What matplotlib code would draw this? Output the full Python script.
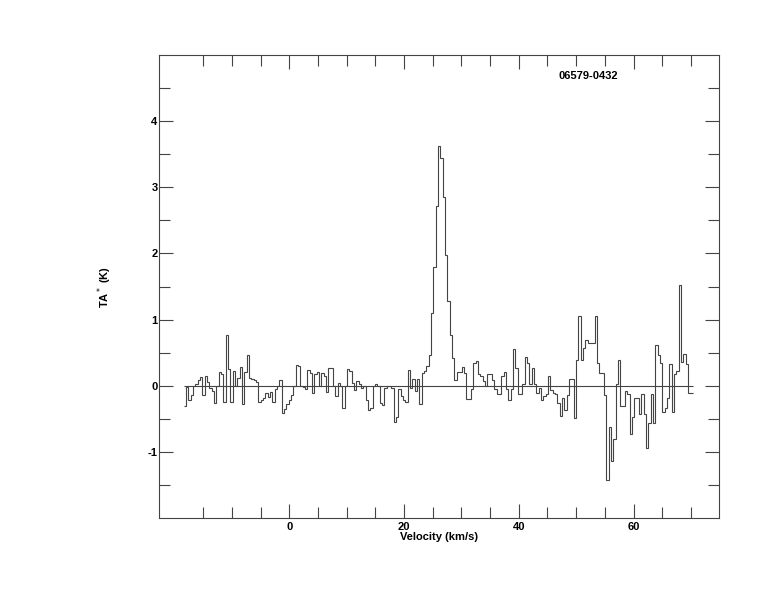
import numpy as np
import matplotlib
matplotlib.use("Agg")
import matplotlib.pyplot as plt
from matplotlib.ticker import FixedLocator

# channel range of the spectrum (km/s)
V_START = -18.4
V_END = 70.3

# antenna temperature per channel (K)
ta_seg1 = [-0.31, -0.02, -0.21, -0.14, 0.0, 0.02, 0.09, 0.13, -0.14, 0.15,
           0.05, -0.03, -0.08, -0.26, 0.0, 0.2, 0.17, -0.25, 0.76, 0.26,
           -0.25, 0.22, 0.0, 0.12, 0.28, -0.28]
ta_seg2 = [0.2, 0.47, 0.12, 0.1, 0.08, 0.05, -0.25, -0.22, -0.19, -0.11,
           -0.17, -0.09, -0.24, -0.05, -0.01, 0.08, -0.42, -0.35, -0.27, -0.21,
           -0.14, -0.01, 0.32, 0.3, 0.0, -0.02, -0.05]
ta_seg3 = [0.24, 0.19, -0.11, 0.18, 0.2, 0.0, 0.19, 0.14, -0.1, 0.27,
           0.27, 0.0, -0.15, 0.04, 0.0, -0.34, 0.0, 0.25, 0.23, 0.04,
           -0.06, 0.07, 0.02, -0.03, 0.0, -0.21, -0.37, -0.34, -0.01, 0.02,
           -0.01, -0.26, -0.29, -0.03, -0.01, 0.0, -0.03]
ta_seg4 = [-0.55, -0.47, -0.05, -0.15, -0.22, -0.24, 0.24, -0.03, 0.1, -0.08,
           0.1, -0.27, 0.19, 0.22, 0.3, 0.47, 1.1, 1.8, 2.71, 3.63,
           3.45, 2.85, 1.98, 1.28, 0.77, 0.42]
ta_seg5 = [0.09, 0.2, 0.21, 0.28, 0.19, -0.2, -0.2, -0.05, 0.34, 0.37,
           0.18, 0.15, 0.07, 0.0, 0.17, 0.17, 0.08, -0.05, -0.12, -0.12,
           0.14, 0.2, -0.05, -0.21, -0.05, 0.55, 0.27]
ta_seg6 = [-0.13, -0.13, 0.02, 0.44, 0.34, 0.02, 0.27, 0.02, -0.11, -0.03,
           -0.21, -0.16, -0.13, 0.14, -0.06, -0.11, -0.13, -0.26, -0.46, -0.18,
           -0.36, -0.14, 0.1, 0.1, -0.49, 0.39, 1.05, 0.39, 0.57, 0.69,
           0.64, 0.64, 0.64, 1.06, 0.34, 0.19, 0.19, -0.14]
ta_seg7 = [-1.42, -0.62, -1.14, -0.81, 0.02, 0.39, -0.3, -0.3, -0.08, -0.13,
           -0.73, -0.48, -0.19, -0.19, -0.43, -0.13, -0.43, -0.94, -0.56, -0.13,
           -0.56, 0.62, 0.47, 0.34, -0.39, -0.33, -0.18, 0.33, -0.39, 0.17,
           0.22, 1.53, 0.36, 0.48, 0.33, -0.11, -0.11]

# tick positions
x_major = [0, 20, 40, 60]
x_minor = [-15, -10, -5, 5, 10, 15, 25, 30, 35, 45, 50, 55, 65, 70]
y_major = [-1, 0, 1, 2, 3, 4]
y_minor = [-1.5, -0.5, 0.5, 1.5, 2.5, 3.5, 4.5]

SOURCE = "06579-0432"

plt.rcParams['font.family'] = ['Liberation Sans', 'DejaVu Sans']
plt.rcParams['axes.unicode_minus'] = False


def main():
    ta = np.array(ta_seg1 + ta_seg2 + ta_seg3 + ta_seg4 + ta_seg5 + ta_seg6 + ta_seg7)
    edges = np.linspace(V_START, V_END, len(ta) + 1)

    fig = plt.figure(figsize=(7.74, 6.12), dpi=100)
    ax = fig.add_axes([0.2054, 0.1536, 0.7236, 0.7565])

    line_col = '#444444'
    ax.stairs(ta, edges, baseline=None, color=line_col, linewidth=0.8)
    ax.hlines(0, V_START, V_END, color=line_col, linewidth=0.8)

    ax.set_xlim(-22.7, 74.9)
    ax.set_ylim(-2, 5)

    ax.xaxis.set_major_locator(FixedLocator(x_major))
    ax.xaxis.set_minor_locator(FixedLocator(x_minor))
    ax.yaxis.set_major_locator(FixedLocator(y_major))
    ax.yaxis.set_minor_locator(FixedLocator(y_minor))
    ax.tick_params(which='both', direction='in', top=True, right=True,
                   color=line_col, width=0.8)
    ax.tick_params(which='major', length=10, labelsize=8)
    ax.tick_params(which='minor', length=8)
    ax.tick_params(axis='x', pad=3)
    ax.tick_params(axis='y', pad=1)
    for lab in ax.get_xticklabels() + ax.get_yticklabels():
        lab.set_fontweight('bold')
    for sp in ax.spines.values():
        sp.set_color(line_col)
        sp.set_linewidth(0.8)

    ax.set_xlabel("Velocity (km/s)", fontsize=8, fontweight='bold', labelpad=0)
    ax.set_ylabel("TA$^*$ (K)", fontsize=8, fontweight='bold', labelpad=24)
    ax.text(0.766, 0.955, SOURCE, transform=ax.transAxes, ha='center', va='center',
            fontsize=8, fontweight='bold')

    fig.savefig("out.png", dpi=100)
    plt.close(fig)


if __name__ == "__main__":
    main()
